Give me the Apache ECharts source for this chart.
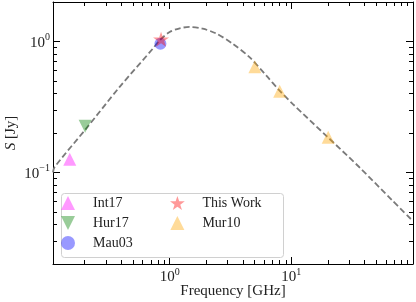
<!DOCTYPE html>
<html><head><meta charset="utf-8">
<script src="https://cdn.jsdelivr.net/npm/echarts@6/dist/echarts.min.js"></script>
<style>html,body{margin:0;padding:0;background:#fff}#c{width:416px;height:302px}</style>
</head><body><div id="c"></div>
<script>
// ---- data ----
const int17Freq = [0.151];
const int17Flux = [0.126];
const hur17Freq = [0.202];
const hur17Flux = [0.225];
const mau03Freq = [0.84];
const mau03Flux = [0.96];
const thisWorkFreq = [0.85];
const thisWorkFlux = [1.04];
const mur10Freq = [5.02, 8.02, 20.1];
const mur10Flux = [0.641, 0.417, 0.186];
const curveFreq = [0.110, 0.1135, 0.206, 0.387, 0.726, 0.828, 1.0, 1.21, 1.46, 1.87, 2.41, 3.30, 4.53, 6.21, 7.97, 10.25, 19.2, 36.1, 67.6, 98.7];
const curveFlux = [0.100, 0.110, 0.216, 0.448, 0.879, 1.02, 1.18, 1.26, 1.29, 1.25, 1.15, 0.96, 0.759, 0.550, 0.423, 0.334, 0.192, 0.110, 0.0611, 0.043];
const xMajorTicks = [1, 10];
const xMinorTicks = [0.2, 0.3, 0.4, 0.5, 0.6, 0.7, 0.8, 0.9, 2, 3, 4, 5, 6, 7, 8, 9, 20, 30, 40, 50, 60, 70, 80, 90];
const yMajorTicks = [0.1, 1];
const yMinorTicks = [0.03, 0.04, 0.05, 0.06, 0.07, 0.08, 0.09, 0.2, 0.3, 0.4, 0.5, 0.6, 0.7, 0.8, 0.9];
const seriesNames = ['Int17', 'Hur17', 'Mau03', 'This Work', 'Mur10'];
const xTitle = 'Frequency [GHz]';
const yTitle = 'S';
const yUnit = ' [Jy]';

// ---- styling ----
const FONT = 'Liberation Serif';
const TXT = '#222';
const X_MIN = 0.11, X_MAX = 100, Y_MIN = 0.02, Y_MAX = 2;
const STAR = 'path://M50,0 L61.8,35.3 L99,35.3 L69,57.3 L80.3,92.7 L50,71 L19.7,92.7 L31,57.3 L1,35.3 L38.2,35.3 Z';
const TRI_UP = 'path://M50,0 L100,100 L0,100 Z';
const TRI_DOWN = 'path://M0,0 L100,0 L50,100 Z';
const rich = {
  b: {fontFamily: FONT, fontSize: 15, color: TXT, lineHeight: 18, verticalAlign: 'bottom'},
  s: {fontFamily: FONT, fontSize: 10, color: TXT, lineHeight: 10, verticalAlign: 'top'}
};
function supLabel(v) {
  const e = Math.round(v);
  return '{b|10}{s|' + (e < 0 ? '\u2212' + (-e) : String(e)) + '}';
}
const lg = Math.log10;
// hidden data axes (log scale) that carry the series
function dataAxis(isX) {
  return {
    type: 'log', logBase: 10, gridIndex: 0,
    min: isX ? X_MIN : Y_MIN, max: isX ? X_MAX : Y_MAX,
    axisLine: {show: false}, axisTick: {show: false}, axisLabel: {show: false},
    splitLine: {show: false}
  };
}
// decoration axes in log10 space for ticks / labels / frame
function decoAxis(isX, pos, showLine, showLabel, vals, len) {
  const lv = vals.map(lg);
  return {
    type: 'value', gridIndex: 0, position: pos,
    min: lg(isX ? X_MIN : Y_MIN), max: lg(isX ? X_MAX : Y_MAX),
    axisLine: {show: showLine, onZero: false, lineStyle: {color: '#000', width: 1}},
    axisTick: {show: true, inside: true, length: len, customValues: lv, lineStyle: {color: '#000', width: 1}},
    axisLabel: showLabel ? {show: true, customValues: lv, margin: 3, formatter: supLabel, rich: rich} : {show: false},
    splitLine: {show: false}, minorTick: {show: false}
  };
}
const xAxes = [
  dataAxis(true),
  decoAxis(true, 'bottom', true, true, xMajorTicks, 7),
  decoAxis(true, 'bottom', false, false, xMinorTicks, 4),
  decoAxis(true, 'top', true, false, xMajorTicks, 7),
  decoAxis(true, 'top', false, false, xMinorTicks, 4)
];
xAxes[1].name = xTitle;
xAxes[1].nameLocation = 'middle';
xAxes[1].nameGap = 20;
xAxes[1].nameMoveOverlap = false;
xAxes[1].nameTextStyle = {fontFamily: FONT, fontSize: 15, color: TXT};
const yAxes = [
  dataAxis(false),
  decoAxis(false, 'left', true, true, yMajorTicks, 7),
  decoAxis(false, 'left', false, false, yMinorTicks, 4),
  decoAxis(false, 'right', true, false, yMajorTicks, 7),
  decoAxis(false, 'right', false, false, yMinorTicks, 4)
];
yAxes[1].name = '{i|' + yTitle + '}' + '{n|' + yUnit + '}';
yAxes[1].nameLocation = 'middle';
yAxes[1].nameGap = 34;
yAxes[1].nameMoveOverlap = false;
yAxes[1].nameTextStyle = {rich: {
  i: {fontFamily: FONT, fontSize: 15, fontStyle: 'italic', color: TXT},
  n: {fontFamily: FONT, fontSize: 15, color: TXT}
}};

function pts(f, s) { return f.map((v, i) => [v, s[i]]); }
function scatter(name, f, s, symbol, size, color) {
  return {
    name: name, type: 'scatter', xAxisIndex: 0, yAxisIndex: 0,
    data: pts(f, s), symbol: symbol, symbolSize: size, symbolKeepAspect: true,
    itemStyle: {color: color, borderWidth: 0}, z: 5, emphasis: {disabled: true}
  };
}

const chart = echarts.init(document.getElementById('c'), null, {renderer: 'canvas'});
chart.setOption({
  animation: false,
  backgroundColor: '#fff',
  grid: {left: 53, right: 3, top: 2, bottom: 38, containLabel: false, outerBoundsMode: 'none'},
  xAxis: xAxes,
  yAxis: yAxes,
  graphic: [{
    type: 'rect', z: 3, left: 61, top: 193,
    shape: {width: 222, height: 64, r: 3},
    style: {fill: 'rgba(255,255,255,0.85)', stroke: '#d0d0d0', lineWidth: 1}
  }],
  legend: [{
    data: seriesNames.slice(0, 3), orient: 'vertical', left: 61, top: 196,
    padding: 0, itemWidth: 40, itemHeight: 14, itemGap: 6, z: 6,
    textStyle: {fontFamily: FONT, fontSize: 14, color: TXT}, selectedMode: false
  }, {
    data: seriesNames.slice(3), orient: 'vertical', left: 170, top: 196,
    padding: 0, itemWidth: 40, itemHeight: 14, itemGap: 6, z: 6,
    textStyle: {fontFamily: FONT, fontSize: 14, color: TXT}, selectedMode: false
  }],
  series: [
    {
      type: 'line', xAxisIndex: 0, yAxisIndex: 0, data: pts(curveFreq, curveFlux),
      smooth: 0.3, showSymbol: false, symbol: 'none', z: 2,
      lineStyle: {color: '#7a7a7a', width: 1.8, type: [6, 3]}, emphasis: {disabled: true}
    },
    scatter(seriesNames[0], int17Freq, int17Flux, TRI_UP, 13, 'rgba(255,0,255,0.5)'),
    scatter(seriesNames[1], hur17Freq, hur17Flux, TRI_DOWN, 13, 'rgba(0,128,0,0.5)'),
    scatter(seriesNames[2], mau03Freq, mau03Flux, 'circle', 12, 'rgba(0,0,255,0.5)'),
    scatter(seriesNames[3], thisWorkFreq, thisWorkFlux, STAR, 16, 'rgba(255,0,0,0.5)'),
    scatter(seriesNames[4], mur10Freq, mur10Flux, TRI_UP, 13, 'rgba(255,165,0,0.5)')
  ]
});
</script>
</body></html>
